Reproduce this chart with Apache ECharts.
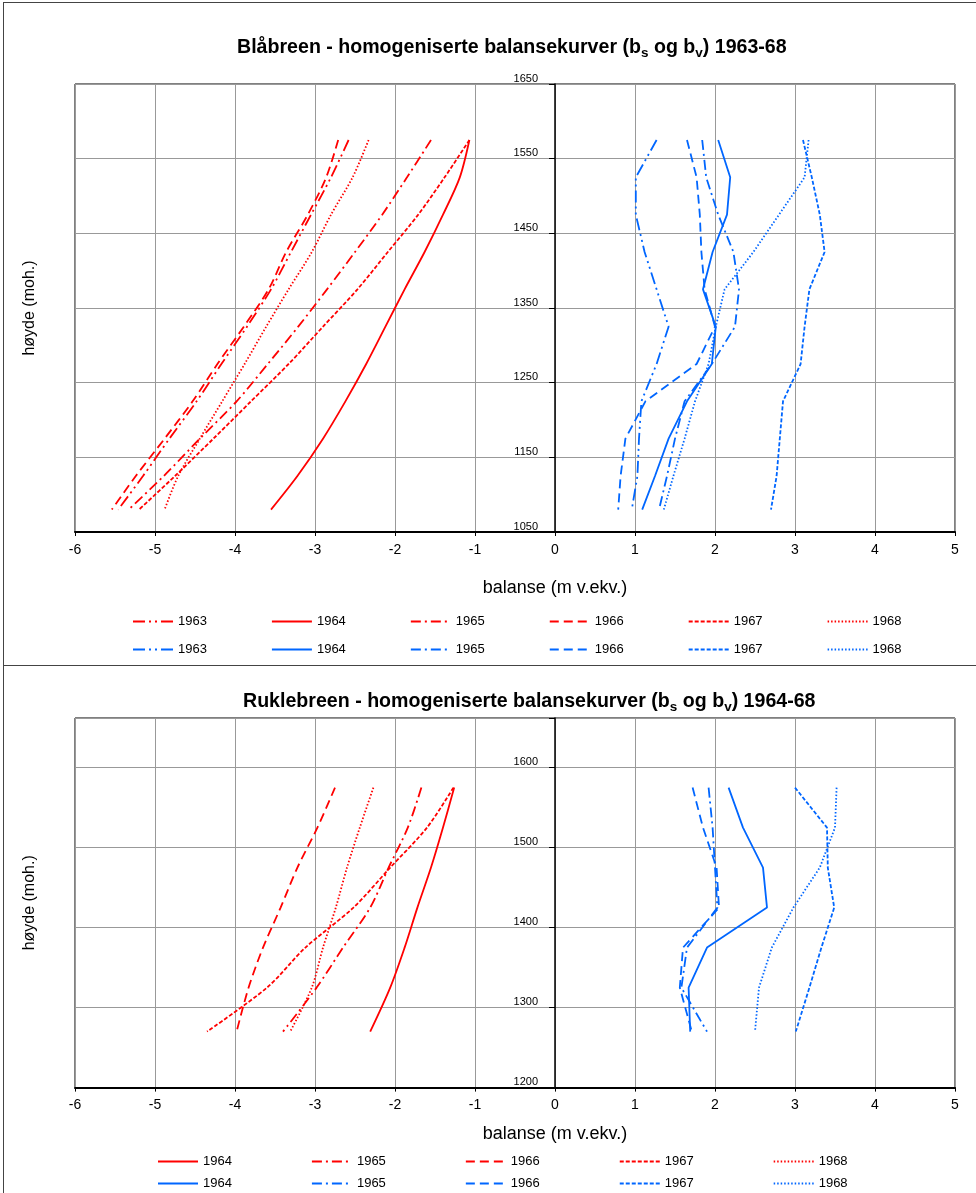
<!DOCTYPE html>
<html>
<head>
<meta charset="utf-8">
<title>Blåbreen og Ruklebreen - balansekurver</title>
<script src="https://cdn.jsdelivr.net/npm/echarts@6/dist/echarts.min.js"></script>
<style>
    html, body { margin: 0; padding: 0; background: #fff; }
    body { width: 976px; height: 1193px; position: relative; overflow: hidden; }
    .ramme { position: absolute; left: 3px; width: 1000px; border: 1px solid #444; box-sizing: border-box; }
    #ramme1 { top: 2px; height: 664px; }
    #ramme2 { top: 665px; height: 600px; }
    #chart { position: absolute; left: 0; top: 0; width: 976px; height: 1193px; }
</style>
</head>
<body>
<div class="ramme" id="ramme1"></div>
<div class="ramme" id="ramme2"></div>
<div id="chart"></div>
<script>
// Blåbreen 1963-68 : høyde (moh.) og balanse (m v.ekv.)
var hoydeBla = [1575, 1525, 1475, 1425, 1375, 1325, 1275, 1225, 1175, 1125, 1080];
var bsBla1963 = [-2.58, -2.80, -3.05, -3.30, -3.55, -3.85, -4.17, -4.48, -4.82, -5.15, -5.46];
var bsBla1964 = [-1.07, -1.19, -1.40, -1.63, -1.88, -2.12, -2.36, -2.62, -2.90, -3.22, -3.55];
var bsBla1965 = [-1.55, -1.85, -2.16, -2.50, -2.85, -3.21, -3.59, -3.98, -4.44, -4.89, -5.33];
var bsBla1966 = [-2.71, -2.86, -3.09, -3.36, -3.58, -3.89, -4.22, -4.53, -4.88, -5.24, -5.54];
var bsBla1967 = [-1.07, -1.38, -1.71, -2.09, -2.47, -2.90, -3.33, -3.80, -4.27, -4.75, -5.20];
var bsBla1968 = [-2.33, -2.53, -2.80, -3.04, -3.33, -3.61, -3.88, -4.16, -4.44, -4.71, -4.88];
var bvBla1963 = [1.27, 1.01, 1.01, 1.12, 1.27, 1.42, 1.27, 1.08, 1.05, 1.03, 0.96];
var bvBla1964 = [2.04, 2.19, 2.15, 1.97, 1.85, 2.01, 1.96, 1.65, 1.42, 1.25, 1.09];
var bvBla1965 = [1.84, 1.89, 2.04, 2.23, 2.30, 2.25, 1.96, 1.62, 1.50, 1.40, 1.30];
var bvBla1966 = [1.65, 1.77, 1.81, 1.83, 1.87, 2.00, 1.77, 1.13, 0.88, 0.82, 0.79];
var bvBla1967 = [3.10, 3.21, 3.31, 3.37, 3.18, 3.12, 3.07, 2.85, 2.81, 2.77, 2.70];
var bvBla1968 = [3.17, 3.12, 2.80, 2.48, 2.12, 2.01, 1.92, 1.75, 1.62, 1.48, 1.36];

// Ruklebreen 1964-68
var hoydeRuk = [1575, 1525, 1475, 1425, 1375, 1325, 1270];
var bsRuk1964 = [-1.26, -1.40, -1.55, -1.72, -1.88, -2.06, -2.31];
var bsRuk1965 = [-1.67, -1.84, -2.08, -2.31, -2.65, -2.98, -3.40];
var bsRuk1966 = [-2.75, -2.97, -3.22, -3.43, -3.65, -3.83, -3.98];
var bsRuk1967 = [-1.27, -1.60, -2.06, -2.52, -3.12, -3.60, -4.35];
var bsRuk1968 = [-2.27, -2.44, -2.60, -2.74, -2.90, -3.04, -3.31];
var bvRuk1964 = [2.17, 2.35, 2.60, 2.65, 1.90, 1.67, 1.69];
var bvRuk1965 = [1.92, 1.97, 2.00, 2.03, 1.65, 1.58, 1.90];
var bvRuk1966 = [1.72, 1.85, 2.02, 2.05, 1.60, 1.56, 1.71];
var bvRuk1967 = [3.00, 3.40, 3.41, 3.49, 3.33, 3.18, 3.01];
var bvRuk1968 = [3.52, 3.50, 3.31, 2.98, 2.71, 2.55, 2.50];

var xTicks = [-6, -5, -4, -3, -2, -1, 0, 1, 2, 3, 4, 5];

var ROD = '#ff0000';
var BLA = '#0066ff';
var FONT = 'Liberation Sans, Arial, sans-serif';

// linjetype per år, som i Excel-figuren
var strek = {
    '1963': [12, 4, 2, 4, 2, 4],
    '1964': 'solid',
    '1965': [10, 4, 2, 4],
    '1966': [9, 5],
    '1967': [4, 2],
    '1968': [1.5, 2]
};

function linje(navn, aar, verdier, hoyde, farge, gi, glatt) {
    return {
        name: navn,
        type: 'line',
        xAxisIndex: gi,
        yAxisIndex: gi,
        data: verdier.map(function (v, i) { return [v, hoyde[i]]; }),
        symbol: 'none',
        smooth: glatt ? 0.3 : false,
        lineStyle: { color: farge, width: 1.8, type: strek[aar] },
        itemStyle: { color: farge },
        silent: true
    };
}

var series = [
    linje('r1963', '1963', bsBla1963, hoydeBla, ROD, 0, true),
    linje('r1964', '1964', bsBla1964, hoydeBla, ROD, 0, true),
    linje('r1965', '1965', bsBla1965, hoydeBla, ROD, 0, true),
    linje('r1966', '1966', bsBla1966, hoydeBla, ROD, 0, true),
    linje('r1967', '1967', bsBla1967, hoydeBla, ROD, 0, true),
    linje('r1968', '1968', bsBla1968, hoydeBla, ROD, 0, true),
    linje('b1963', '1963', bvBla1963, hoydeBla, BLA, 0, false),
    linje('b1964', '1964', bvBla1964, hoydeBla, BLA, 0, false),
    linje('b1965', '1965', bvBla1965, hoydeBla, BLA, 0, false),
    linje('b1966', '1966', bvBla1966, hoydeBla, BLA, 0, false),
    linje('b1967', '1967', bvBla1967, hoydeBla, BLA, 0, false),
    linje('b1968', '1968', bvBla1968, hoydeBla, BLA, 0, false),
    linje('R1964', '1964', bsRuk1964, hoydeRuk, ROD, 1, true),
    linje('R1965', '1965', bsRuk1965, hoydeRuk, ROD, 1, true),
    linje('R1966', '1966', bsRuk1966, hoydeRuk, ROD, 1, true),
    linje('R1967', '1967', bsRuk1967, hoydeRuk, ROD, 1, true),
    linje('R1968', '1968', bsRuk1968, hoydeRuk, ROD, 1, true),
    linje('B1964', '1964', bvRuk1964, hoydeRuk, BLA, 1, false),
    linje('B1965', '1965', bvRuk1965, hoydeRuk, BLA, 1, false),
    linje('B1966', '1966', bvRuk1966, hoydeRuk, BLA, 1, false),
    linje('B1967', '1967', bvRuk1967, hoydeRuk, BLA, 1, false),
    linje('B1968', '1968', bvRuk1968, hoydeRuk, BLA, 1, false)
];

function xAkse(gi, navnGap) {
    return {
        type: 'value', gridIndex: gi, min: xTicks[0], max: xTicks[xTicks.length - 1], interval: 1,
        name: 'balanse (m v.ekv.)', nameLocation: 'middle', nameGap: navnGap,
        // tittelen står midt under 0-linja, ikke midt i plottet
        nameTextStyle: { fontFamily: FONT, fontSize: 18, color: '#000', padding: [0, 0, 0, 80] },
        axisLine: { onZero: false, lineStyle: { color: '#000', width: 2 } },
        axisTick: { show: true, length: 4, lineStyle: { color: '#000' } },
        axisLabel: { fontFamily: FONT, fontSize: 14, color: '#000', margin: 11 },
        splitLine: { show: true, lineStyle: { color: '#999', width: 1 } }
    };
}

// y-aksen står på x = 0 (480 px inn fra venstre kant av plottet)
function yAkse(gi, min, max, steg) {
    return {
        type: 'value', gridIndex: gi, min: min, max: max, interval: 100,
        position: 'left', offset: -480,
        name: 'høyde (moh.)', nameLocation: 'middle', nameGap: 517,
        nameTextStyle: { fontFamily: FONT, fontSize: 16, color: '#000' },
        axisLine: { onZero: false, lineStyle: { color: '#000', width: 1.5 } },
        axisTick: { show: true, length: 6, lineStyle: { color: '#000' } },
        axisLabel: {
            fontFamily: FONT, fontSize: 11, color: '#000', margin: 17,
            verticalAlign: 'bottom',
            formatter: function (v) { return v % steg === 0 ? String(v) : ''; }
        },
        splitLine: { show: true, lineStyle: { color: '#999', width: 1 } }
    };
}

// alle etikettene er årstall med fire siffer, så avstanden styres med itemGap
function tegnforklaring(navn, left, top, ikon, mellomrom) {
    return {
        data: navn, left: left, top: top, orient: 'horizontal',
        itemWidth: ikon, itemHeight: 14, itemGap: mellomrom,
        selectedMode: false,
        itemStyle: { opacity: 0, borderWidth: 0 },
        formatter: function (n) { return n.slice(1); },
        textStyle: { fontFamily: FONT, fontSize: 13, color: '#000' }
    };
}

var tittelStil = {
    fontFamily: FONT, fontSize: 19.6, fontWeight: 'bold', color: '#000', lineHeight: 24,
    rich: {
        s: { fontFamily: FONT, fontSize: 13.5, fontWeight: 'bold', color: '#000', verticalAlign: 'bottom', lineHeight: 13 }
    }
};

var chart = echarts.init(document.getElementById('chart'), null, { renderer: 'canvas' });
chart.setOption({
    animation: false,
    backgroundColor: 'transparent',
    title: [
        { text: 'Blåbreen - homogeniserte balansekurver (b{s|s} og b{s|v}) 1963-68', left: 232, top: 31, textStyle: tittelStil },
        { text: 'Ruklebreen - homogeniserte balansekurver (b{s|s} og b{s|v}) 1964-68', left: 238, top: 685, textStyle: tittelStil }
    ],
    grid: [
        { left: 75, top: 84, width: 880, height: 448, outerBoundsMode: 'none', containLabel: false,
          show: true, borderColor: '#000', borderWidth: 1, backgroundColor: 'transparent' },
        { left: 75, top: 718, width: 880, height: 369.6, outerBoundsMode: 'none', containLabel: false,
          show: true, borderColor: '#000', borderWidth: 1, backgroundColor: 'transparent' }
    ],
    xAxis: [xAkse(0, 47), xAkse(1, 37)],
    yAxis: [
        yAkse(0, 1050, 1650, 50),
        yAkse(1, 1200, 1662, 100)
    ],
    legend: [
        tegnforklaring(['r1963', 'r1964', 'r1965', 'r1966', 'r1967', 'r1968'], 127, 610, 40, 64),
        tegnforklaring(['b1963', 'b1964', 'b1965', 'b1966', 'b1967', 'b1968'], 127, 638, 40, 64),
        tegnforklaring(['R1964', 'R1965', 'R1966', 'R1967', 'R1968'], 152, 1150, 40, 79),
        tegnforklaring(['B1964', 'B1965', 'B1966', 'B1967', 'B1968'], 152, 1172, 40, 79)
    ],
    series: series
});
</script>
</body>
</html>
